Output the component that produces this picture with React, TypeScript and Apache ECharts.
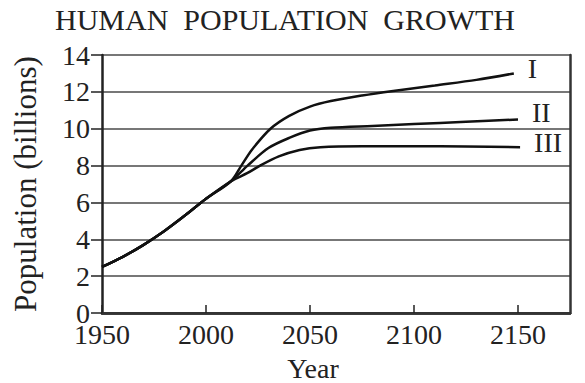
import React, { useEffect, useRef } from "react";
import * as echarts from "echarts";

const titleText = "HUMAN  POPULATION  GROWTH";
const xAxisName = "Year";
const yAxisName = "Population (billions)";

const xTicks = [1950, 2000, 2050, 2100, 2150];
const yTicks = [0, 2, 4, 6, 8, 10, 12, 14];

// shared history
const commonYears = [1950, 1960, 1970, 1980, 1990, 2000, 2012];
const commonPop = [2.5, 3.05, 3.7, 4.45, 5.3, 6.2, 7.15];

// projection I
const yearsI = [2017, 2022, 2031, 2040, 2050, 2060, 2075, 2090, 2110, 2130, 2148];
const popI = [8.0, 8.85, 10.0, 10.7, 11.2, 11.5, 11.8, 12.05, 12.35, 12.65, 13.0];

// projection II
const yearsII = [2020, 2030, 2040, 2050, 2060, 2080, 2100, 2125, 2150];
const popII = [8.0, 8.95, 9.5, 9.9, 10.05, 10.15, 10.25, 10.38, 10.5];

// projection III
const yearsIII = [2020, 2026, 2035, 2045, 2055, 2075, 2100, 2125, 2151];
const popIII = [7.6, 8.0, 8.5, 8.85, 9.0, 9.05, 9.05, 9.03, 9.0];

const seriesNames = ["I", "II", "III"];

const zip = (xs: number[], ys: number[]) => xs.map((x, i) => [x, ys[i]]);

const FONT = '"Liberation Serif", "Times New Roman", serif';

export default function App() {
  const ref = useRef<HTMLDivElement>(null);
  useEffect(() => {
    if (!ref.current) return;
    const chart = echarts.init(ref.current, null, { renderer: "svg" });
    const common = zip(commonYears, commonPop);
    const tails = [zip(yearsI, popI), zip(yearsII, popII), zip(yearsIII, popIII)];
    const labelOffsets = [[0, -5], [0, -7], [0, -5]];
    chart.setOption({
      animation: false,
      backgroundColor: "#ffffff",
      title: {
        text: titleText,
        left: 55,
        top: 4,
        padding: 0,
        textStyle: { fontFamily: FONT, fontSize: 30, fontWeight: "normal", color: "#222" },
      },
      graphic: [
        {
          type: "text",
          x: 313,
          y: 368,
          style: {
            text: xAxisName,
            font: `28px ${FONT}`,
            fill: "#222",
            align: "center",
            verticalAlign: "middle",
          },
        },
      ],
      grid: { left: 102, right: 15, top: 55, bottom: 70 },
      xAxis: [
        {
          type: "value",
          min: 1950,
          max: 2175,
          interval: 50,
          axisLine: { show: true, lineStyle: { color: "#222", width: 2.5 } },
          axisTick: { show: true, inside: true, length: 8, lineStyle: { color: "#222", width: 1.5 } },
          axisLabel: {
            showMaxLabel: false,
            margin: 10,
            lineHeight: 22,
            fontFamily: FONT,
            fontSize: 28,
            color: "#222",
            formatter: (v: number) => (xTicks.includes(v) ? String(v) : ""),
          },
          splitLine: { show: false },
        },
        {
          type: "value",
          position: "top",
          min: 1950,
          max: 2175,
          axisLine: { show: true, lineStyle: { color: "#333", width: 2.5 } },
          axisTick: { show: false },
          axisLabel: { show: false },
          splitLine: { show: false },
        },
      ],
      yAxis: [
        {
          type: "value",
          min: 0,
          max: 14,
          interval: 2,
          name: yAxisName,
          nameLocation: "middle",
          nameGap: 61,
          nameTextStyle: { fontFamily: FONT, fontSize: 31, color: "#222" },
          axisLine: { show: true, lineStyle: { color: "#222", width: 2.5 } },
          axisTick: { show: true, inside: false, length: 11, lineStyle: { color: "#222", width: 1.5 } },
          axisLabel: {
            margin: 12,
            lineHeight: 20,
            fontFamily: FONT,
            fontSize: 28,
            color: "#222",
            formatter: (v: number) => (yTicks.includes(v) ? String(v) : ""),
          },
          splitLine: { show: true, lineStyle: { color: "#777", width: 2 } },
        },
        {
          type: "value",
          position: "right",
          min: 0,
          max: 14,
          axisLine: { show: true, lineStyle: { color: "#333", width: 2.5 } },
          axisTick: { show: false },
          axisLabel: { show: false },
          splitLine: { show: false },
        },
      ],
      series: seriesNames.map((name, i) => ({
        name,
        type: "line",
        xAxisIndex: 0,
        yAxisIndex: 0,
        data: [...common, ...tails[i]],
        smooth: 0.3,
        showSymbol: false,
        symbol: "none",
        lineStyle: { color: "#111", width: 2.5 },
        endLabel: {
          show: true,
          formatter: name,
          distance: 14,
          offset: labelOffsets[i],
          fontFamily: FONT,
          fontSize: 28,
          color: "#222",
        },
        z: 3,
      })),
    });
    return () => chart.dispose();
  }, []);
  return (
    <div
      ref={ref}
      style={{ position: "absolute", left: 0, top: 0, width: 585, height: 383 }}
    />
  );
}
